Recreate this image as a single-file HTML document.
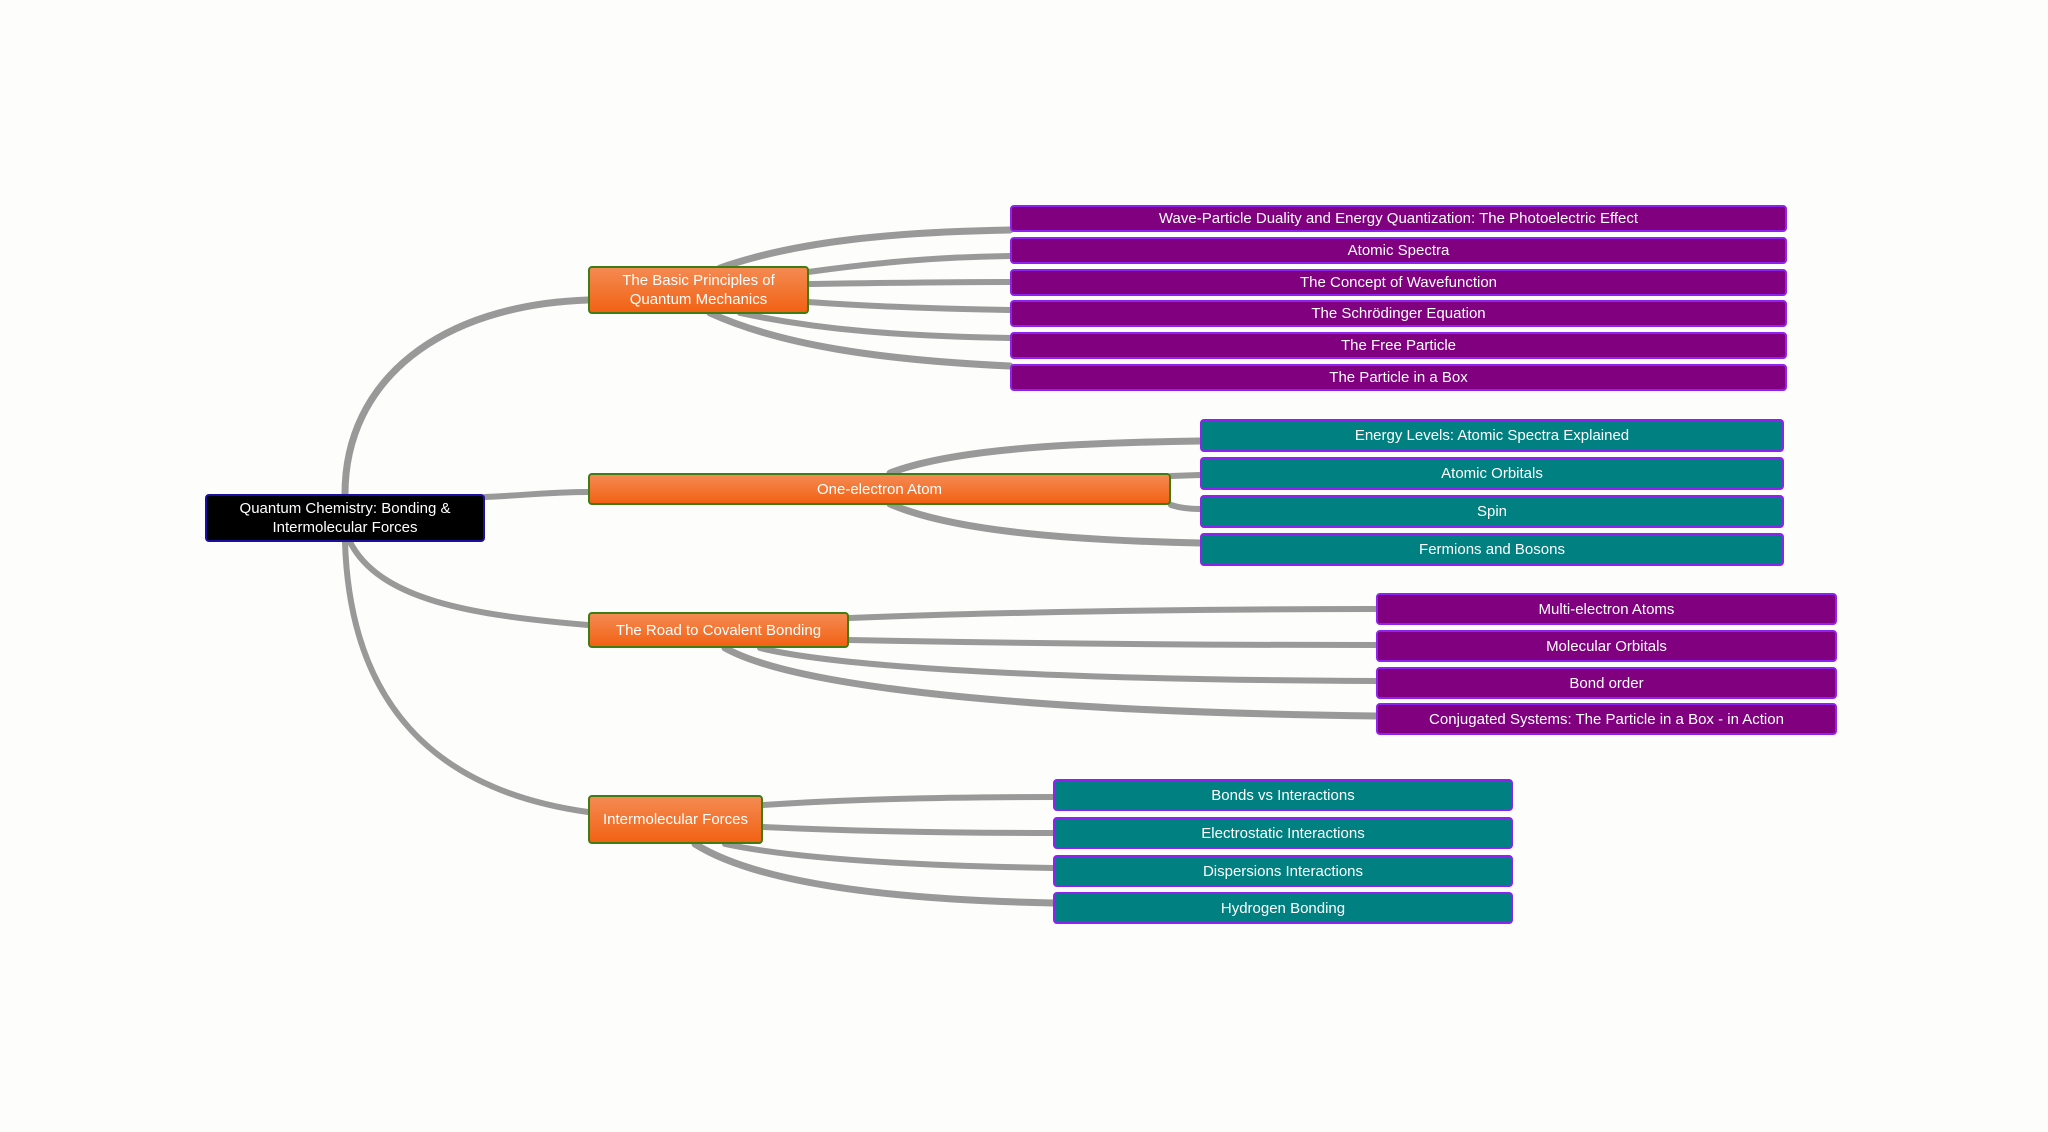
<!DOCTYPE html>
<html><head><meta charset="utf-8"><style>
html,body{margin:0;padding:0;background:#fdfdfb;}
#c{position:relative;width:2048px;height:1132px;overflow:hidden;font-family:"Liberation Sans",Arial,sans-serif;}
.n{position:absolute;box-sizing:border-box;display:flex;align-items:center;justify-content:center;text-align:center;color:#fff;font-size:15px;line-height:19px;border-radius:4px;}
.r{background:#000;border:2.5px solid #1a0fa0;}
.o{background:linear-gradient(#f48a52,#f26214);border:2.5px solid #3f7d12;}
.p{background:#800080;border:2.5px solid #8f22f0;}
.t{background:#008080;border:2.5px solid #8f22f0;}
svg{position:absolute;left:0;top:0;}
</style></head><body><div id="c">
<svg width="2048" height="1132" fill="none" stroke="#999" stroke-linecap="round">
<path d="M345,494 C345,380 440,305 588,300" stroke-width="7"/>
<path d="M485,497 C530,495 550,492 588,492" stroke-width="6"/>
<path d="M350,542 C380,600 470,615 588,625" stroke-width="6"/>
<path d="M345,542 C350,700 430,790 588,812" stroke-width="6"/>
<path d="M720,268 C800,240 900,232 1010,230" stroke-width="7"/>
<path d="M808,272 C880,262 940,257 1010,256" stroke-width="6"/>
<path d="M808,284 C880,283 940,282 1010,282" stroke-width="6"/>
<path d="M808,302 C880,307 940,309 1010,310" stroke-width="6"/>
<path d="M740,313 C820,330 900,336 1010,338" stroke-width="6"/>
<path d="M710,313 C780,345 880,360 1010,366" stroke-width="7"/>
<path d="M890,473 C950,450 1060,443 1200,441" stroke-width="7"/>
<path d="M1171,476 L1200,475" stroke-width="6"/>
<path d="M1171,505 C1180,508 1190,509 1200,509" stroke-width="6"/>
<path d="M890,504 C950,530 1060,540 1200,543" stroke-width="7"/>
<path d="M849,618 C1000,612 1200,609 1376,609" stroke-width="6"/>
<path d="M849,640 C1000,643 1200,645 1376,645" stroke-width="6"/>
<path d="M760,648 C850,670 1100,680 1376,681" stroke-width="6"/>
<path d="M725,648 C800,690 1050,712 1376,716" stroke-width="7"/>
<path d="M763,805 C850,799 950,797 1053,797" stroke-width="6"/>
<path d="M763,827 C850,831 950,833 1053,833" stroke-width="6"/>
<path d="M725,844 C800,860 930,866 1053,868" stroke-width="6"/>
<path d="M695,844 C760,885 900,900 1053,903" stroke-width="7"/>
</svg>
<div class="n r" style="left:205px;top:494px;width:280px;height:48px">Quantum Chemistry: Bonding &amp;<br>Intermolecular Forces</div>
<div class="n o" style="left:588px;top:266px;width:221px;height:48px">The Basic Principles of<br>Quantum Mechanics</div>
<div class="n o" style="left:588px;top:473px;width:583px;height:32px">One-electron Atom</div>
<div class="n o" style="left:588px;top:612px;width:261px;height:36px">The Road to Covalent Bonding</div>
<div class="n o" style="left:588px;top:795px;width:175px;height:49px">Intermolecular Forces</div>
<div class="n p" style="left:1010px;top:205px;width:777px;height:27px">Wave-Particle Duality and Energy Quantization: The Photoelectric Effect</div>
<div class="n p" style="left:1010px;top:237px;width:777px;height:27px">Atomic Spectra</div>
<div class="n p" style="left:1010px;top:269px;width:777px;height:27px">The Concept of Wavefunction</div>
<div class="n p" style="left:1010px;top:300px;width:777px;height:27px">The Schrödinger Equation</div>
<div class="n p" style="left:1010px;top:332px;width:777px;height:27px">The Free Particle</div>
<div class="n p" style="left:1010px;top:364px;width:777px;height:27px">The Particle in a Box</div>
<div class="n t" style="left:1200px;top:419px;width:584px;height:33px">Energy Levels: Atomic Spectra Explained</div>
<div class="n t" style="left:1200px;top:457px;width:584px;height:33px">Atomic Orbitals</div>
<div class="n t" style="left:1200px;top:495px;width:584px;height:33px">Spin</div>
<div class="n t" style="left:1200px;top:533px;width:584px;height:33px">Fermions and Bosons</div>
<div class="n p" style="left:1376px;top:593px;width:461px;height:32px">Multi-electron Atoms</div>
<div class="n p" style="left:1376px;top:630px;width:461px;height:32px">Molecular Orbitals</div>
<div class="n p" style="left:1376px;top:667px;width:461px;height:32px">Bond order</div>
<div class="n p" style="left:1376px;top:703px;width:461px;height:32px">Conjugated Systems: The Particle in a Box - in Action</div>
<div class="n t" style="left:1053px;top:779px;width:460px;height:32px">Bonds vs Interactions</div>
<div class="n t" style="left:1053px;top:817px;width:460px;height:32px">Electrostatic Interactions</div>
<div class="n t" style="left:1053px;top:855px;width:460px;height:32px">Dispersions Interactions</div>
<div class="n t" style="left:1053px;top:892px;width:460px;height:32px">Hydrogen Bonding</div>
</div></body></html>
